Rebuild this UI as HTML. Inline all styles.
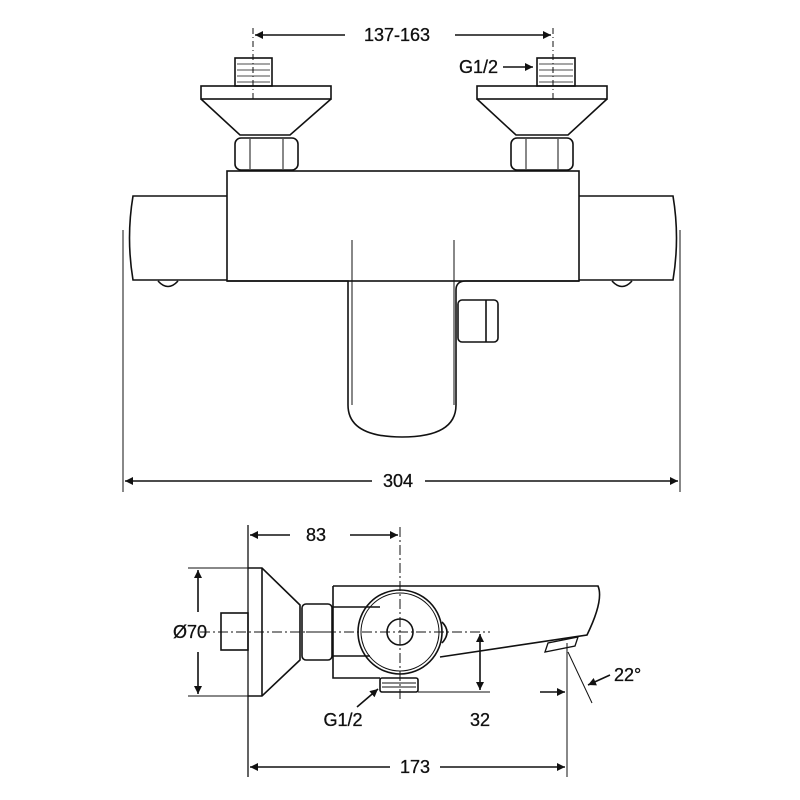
<!DOCTYPE html>
<html><head><style>body{margin:0;background:#fff}svg{display:block}text{font-family:"Liberation Sans",sans-serif;font-size:18px;fill:#111;stroke:#111;stroke-width:0.3}</style></head>
<body>
<svg width="800" height="800" viewBox="0 0 800 800" xmlns="http://www.w3.org/2000/svg">
<defs><marker id="a" viewBox="0 0 10 10" refX="10" refY="5" markerWidth="12" markerHeight="8" orient="auto-start-reverse" markerUnits="userSpaceOnUse"><path d="M0,0L10,5L0,10z" fill="#111"/></marker></defs>
<g stroke="#111" stroke-width="1.6" fill="none">
<line x1="253" y1="28" x2="253" y2="100" stroke-dasharray="6,3,1,3" stroke-width="1"/>
<line x1="553" y1="28" x2="553" y2="100" stroke-dasharray="6,3,1,3" stroke-width="1"/>
<line x1="255" y1="35" x2="345" y2="35" marker-start="url(#a)"/>
<line x1="455" y1="35" x2="551" y2="35" marker-end="url(#a)"/>
<rect x="235" y="58" width="37" height="28"/><rect x="537" y="58" width="38" height="28"/>
<g stroke-width="0.8"><path d="M237 64h33M237 70h33M237 76h33M237 82h33M539 64h34M539 70h34M539 76h34M539 82h34"/></g>
<rect x="201" y="86" width="130" height="13"/><rect x="477" y="86" width="130" height="13"/>
<path d="M201 99L240 135H290L331 99"/><path d="M477 99L516 135H568L607 99"/>
<rect x="235" y="138" width="63" height="32" rx="6"/><rect x="511" y="138" width="62" height="32" rx="6"/>
<path d="M250 139v30M283 139v30M526 139v30M558 139v30" stroke-width="1"/>
<rect x="227" y="171" width="352" height="110"/>
<path d="M227 196H133Q126 238 133 280H227"/><path d="M579 196H673Q680 238 673 280H579"/>
<path d="M158 281Q168 292 178 281M612 281Q622 292 632 281"/>
<path d="M227 281H348V405Q348 437 402 437Q456 437 456 405V290Q456 281 466 281H579"/>
<path d="M352 240V405M454 240V405" stroke-width="1"/>
<rect x="458" y="300" width="40" height="42" rx="4"/><path d="M486 300v42"/>
<line x1="123" y1="230" x2="123" y2="492" stroke-width="1"/><line x1="680" y1="230" x2="680" y2="492" stroke-width="1"/>
<line x1="125" y1="481" x2="372" y2="481" marker-start="url(#a)"/>
<line x1="425" y1="481" x2="678" y2="481" marker-end="url(#a)"/>
<line x1="503" y1="67" x2="533" y2="67" marker-end="url(#a)"/>
<line x1="248" y1="525" x2="248" y2="777" stroke-width="1.3"/>
<line x1="400" y1="527" x2="400" y2="700" stroke-dasharray="10,3,2,3" stroke-width="1"/>
<line x1="250" y1="535" x2="290" y2="535" marker-start="url(#a)"/>
<line x1="350" y1="535" x2="398" y2="535" marker-end="url(#a)"/>
<line x1="188" y1="568" x2="248" y2="568" stroke-width="1"/><line x1="188" y1="696" x2="248" y2="696" stroke-width="1"/>
<line x1="198" y1="570" x2="198" y2="612" marker-start="url(#a)"/>
<line x1="198" y1="652" x2="198" y2="694" marker-end="url(#a)"/>
<path d="M248 568H262L300 605V660L262 696H248"/><path d="M262 568V696"/>
<rect x="221" y="613" width="27" height="37"/>
<rect x="302" y="604" width="30" height="56" rx="4"/><path d="M306 632h26" stroke-width="1"/>
<path d="M333 586H598Q604 600 587 635L440 657"/>
<path d="M333 586V678H380M333 607H380M333 656H370"/>
<circle cx="400" cy="632" r="42"/><circle cx="400" cy="632" r="39" stroke-width="1"/>
<circle cx="400" cy="632" r="13"/>
<path d="M442 622Q452 632 442 643"/>
<rect x="380" y="678" width="38" height="14" rx="2"/><path d="M382 683h34M382 687h34" stroke-width="1"/>
<line x1="200" y1="632" x2="490" y2="632" stroke-dasharray="10,3,2,3" stroke-width="1"/>
<line x1="418" y1="692" x2="490" y2="692" stroke-width="1"/>
<line x1="480" y1="634" x2="480" y2="690" marker-start="url(#a)" marker-end="url(#a)"/>
<path d="M545 652L548 643L578 637L575 646Z" stroke-width="1.3"/>
<line x1="567" y1="643" x2="567" y2="777" stroke-width="1"/>
<line x1="540" y1="692" x2="565" y2="692" marker-end="url(#a)"/>
<line x1="568" y1="652" x2="592" y2="703" stroke-width="1"/>
<line x1="610" y1="675" x2="588" y2="685" marker-end="url(#a)"/>
<line x1="357" y1="707" x2="378" y2="689" marker-end="url(#a)"/>
<line x1="250" y1="767" x2="390" y2="767" marker-start="url(#a)"/>
<line x1="440" y1="767" x2="565" y2="767" marker-end="url(#a)"/>
</g>
<text x="397" y="41" text-anchor="middle">137-163</text>
<text x="498" y="73" text-anchor="end">G1/2</text>
<text x="398" y="487" text-anchor="middle">304</text>
<text x="316" y="541" text-anchor="middle">83</text>
<text x="190" y="638" text-anchor="middle">Ø70</text>
<text x="343" y="726" text-anchor="middle">G1/2</text>
<text x="480" y="726" text-anchor="middle">32</text>
<text x="614" y="681">22°</text>
<text x="415" y="773" text-anchor="middle">173</text>
</svg>
</body></html>
